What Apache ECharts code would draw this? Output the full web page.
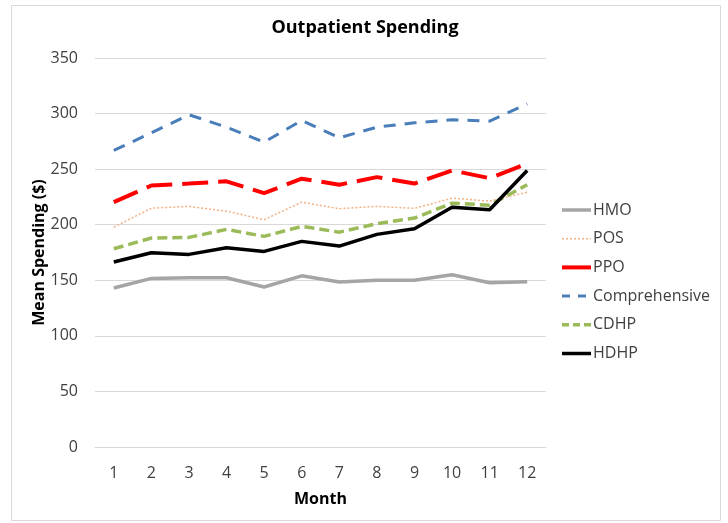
<!DOCTYPE html>
<html>
<head>
<meta charset="utf-8">
<script src="https://cdn.jsdelivr.net/npm/echarts@6/dist/echarts.min.js"></script>
<style>
html,body{margin:0;padding:0;background:#fff;}
#chart{width:728px;height:523px;}
</style>
</head>
<body>
<div id="chart"></div>
<script>
var months = ['1','2','3','4','5','6','7','8','9','10','11','12'];
var yTicks = [0, 50, 100, 150, 200, 250, 300, 350];
var hmo = [143, 151.7, 152.3, 152.3, 144, 154, 148.4, 150, 150, 155, 147.8, 148.7];
var pos = [197.8, 214.9, 216.5, 212.2, 204.5, 220.3, 214.4, 216.5, 214.7, 223.9, 221.2, 229.3];
var ppo = [220.3, 235.3, 237, 239, 228.4, 241.4, 236, 242.8, 237, 248.8, 241.9, 254.9];
var comprehensive = [266.8, 282.7, 298.9, 287.8, 274.3, 293.8, 278.2, 287.8, 291.7, 294.4, 293.2, 308.8];
var cdhp = [178.4, 188, 188.6, 195.8, 189.5, 198.5, 193.3, 200.9, 206, 219.4, 217.6, 236];
var hdhp = [166.4, 174.8, 173.3, 179.3, 176, 185, 180.8, 191.3, 196.4, 215.8, 213.5, 248.8];

var FONT = 'Open Sans';
var styles = {
  'HMO': { color: '#a5a5a5', width: 3.5, type: 'solid' },
  'POS': { color: '#f4b183', width: 1.5, type: [2, 2] },
  'PPO': { color: '#ff0000', width: 4, type: [26, 10] },
  'Comprehensive': { color: '#4a7ebb', width: 3, type: [12, 9] },
  'CDHP': { color: '#9bbb59', width: 3.5, type: [10, 5] },
  'HDHP': { color: '#000000', width: 3.5, type: 'solid' }
};
var legendTypes = {
  'HMO': 'solid', 'POS': [2, 2], 'PPO': 'solid', 'Comprehensive': [8, 8], 'CDHP': [7, 4], 'HDHP': 'solid'
};
function line(name, data) {
  var s = styles[name];
  return {
    name: name, type: 'line', data: data, symbol: 'none', showSymbol: false,
    lineStyle: { color: s.color, width: s.width, type: s.type },
    itemStyle: { color: s.color },
    emphasis: { disabled: true },
    animation: false
  };
}
var names = ['HMO', 'POS', 'PPO', 'Comprehensive', 'CDHP', 'HDHP'];
var chart = echarts.init(document.getElementById('chart'), null, { renderer: 'canvas' });
chart.setOption({
  backgroundColor: '#fff',
  animation: false,
  textStyle: { fontFamily: FONT },
  title: {
    text: 'Outpatient Spending', left: 360, top: 14, textAlign: 'center',
    textStyle: { fontFamily: FONT, fontSize: 18, fontWeight: 'bold', color: '#000' }
  },
  graphic: [{
    type: 'rect', shape: { x: 11.5, y: 5.5, width: 709, height: 515 },
    style: { fill: null, stroke: '#d9d9d9', lineWidth: 1 }, silent: true, z: -1
  }],
  legend: {
    orient: 'vertical', left: 555, top: 197, itemWidth: 29, itemHeight: 14, itemGap: 12.7,
    itemStyle: { opacity: 0 },
    textStyle: { fontFamily: FONT, fontSize: 16, color: '#404040', padding: [0, 0, 0, -3] },
    data: names.map(function (n) {
      return { name: n, lineStyle: { width: styles[n].width, type: legendTypes[n], color: styles[n].color } };
    })
  },
  grid: { left: 95, right: 182, top: 58, bottom: 76, containLabel: false },
  xAxis: {
    type: 'category', data: months, boundaryGap: true,
    name: 'Month', nameLocation: 'middle', nameGap: 44, nameMoveOverlap: false,
    nameTextStyle: { fontFamily: FONT, fontSize: 16, fontWeight: 'bold', color: '#000' },
    axisLine: { show: true, lineStyle: { color: '#d9d9d9', width: 1 } },
    axisTick: { show: false },
    axisLabel: { fontFamily: FONT, fontSize: 16, color: '#404040', margin: 18 }
  },
  yAxis: {
    type: 'value', min: yTicks[0], max: yTicks[yTicks.length - 1], interval: 50,
    name: 'Mean Spending ($)', nameLocation: 'middle', nameGap: 48, nameMoveOverlap: false,
    nameTextStyle: { fontFamily: FONT, fontSize: 16, fontWeight: 'bold', color: '#000' },
    axisLine: { show: false }, axisTick: { show: false },
    axisLabel: { fontFamily: FONT, fontSize: 16, color: '#404040', margin: 17 },
    splitLine: { lineStyle: { color: '#d9d9d9', width: 1 } }
  },
  series: [
    line('HMO', hmo),
    line('POS', pos),
    line('PPO', ppo),
    line('Comprehensive', comprehensive),
    line('CDHP', cdhp),
    line('HDHP', hdhp)
  ]
});
</script>
</body>
</html>
